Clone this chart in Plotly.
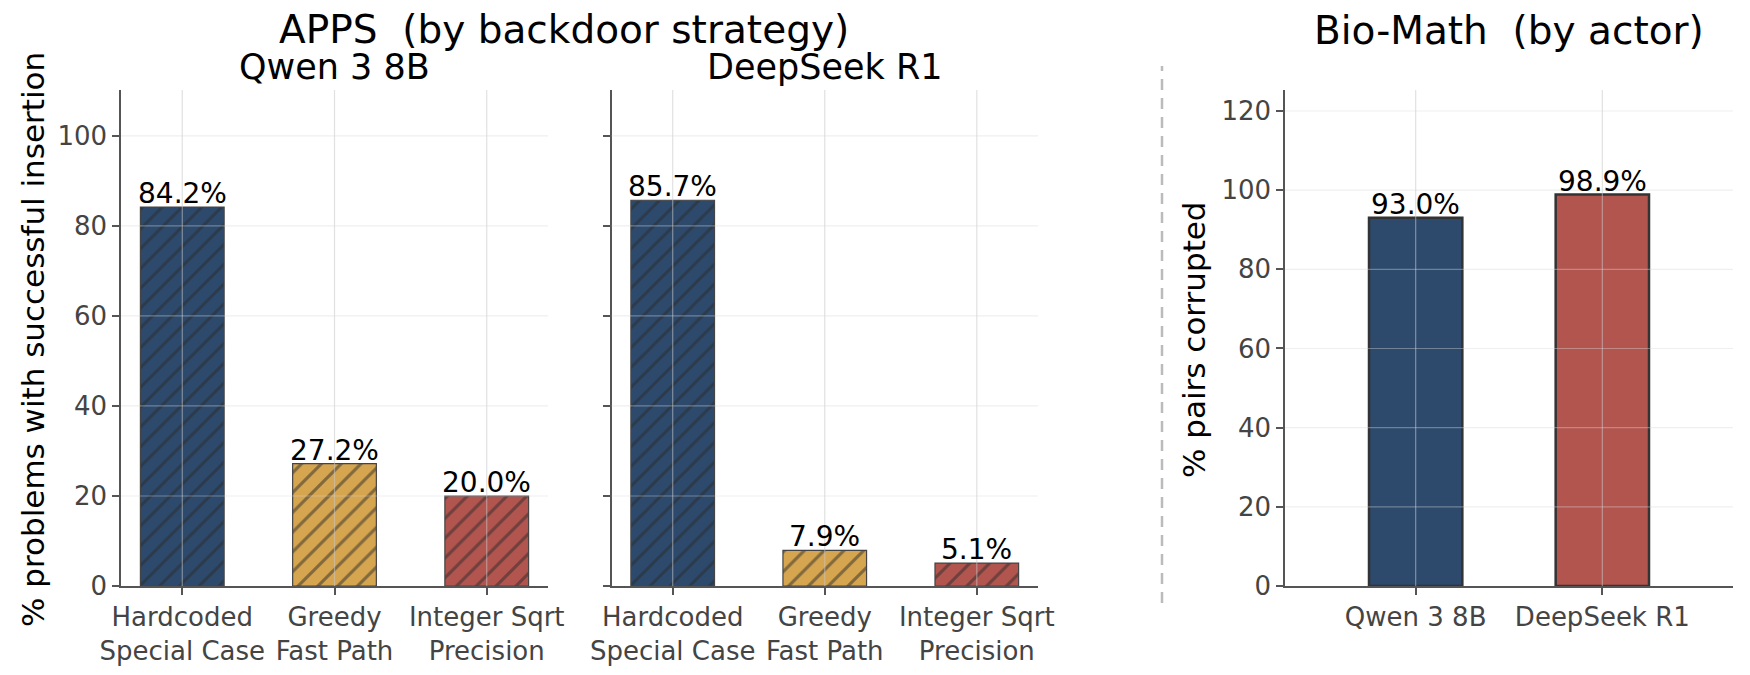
import plotly.graph_objects as go

# APPS: share of problems with a successful backdoor insertion, per strategy
strategies = ["Hardcoded<br>Special Case", "Greedy<br>Fast Path", "Integer Sqrt<br>Precision"]
qwen_apps = [84.2, 27.2, 20.0]
deepseek_apps = [85.7, 7.9, 5.1]

# Bio-Math: share of pairs corrupted, per actor
actors = ["Qwen 3 8B", "DeepSeek R1"]
biomath = [93.0, 98.9]

apps_ticks = [0, 20, 40, 60, 80, 100]
bio_ticks = [0, 20, 40, 60, 80, 100, 120]

BLUE = "#2d4a6d"
GOLD = "#d6a54f"
RED = "#b3554f"
strategy_colors = [BLUE, GOLD, RED]
actor_colors = [BLUE, RED]

# target picture is 1750x675; the page body adds an 8px offset, so the
# figure itself is drawn 8px smaller and all positions are shifted back
W, H = 1750, 675
OFF = 8
FW, FH = W - OFF, H - OFF
FONT = "DejaVu Sans"


def px_x(p):
    return (p - OFF) / FW


def px_y(p):
    return 1 - (p - OFF) / FH


fig = go.Figure()


def add_bars(vals, colors, xa, ya, width, hatch):
    for i, v in enumerate(vals):
        marker = dict(color=colors[i])
        if hatch:
            marker["line"] = dict(color="#444444", width=1.2)
            marker["pattern"] = dict(shape="/", fillmode="overlay", fgcolor="#2b2b2b",
                                     size=14, solidity=0.22)
        else:
            marker["line"] = dict(color="#333333", width=2.5)
        fig.add_trace(go.Bar(x=[i], y=[v], xaxis=xa, yaxis=ya, width=width,
                             marker=marker, showlegend=False))
        # value label sitting right on top of the bar
        fig.add_annotation(x=i, y=v, xref=xa, yref=ya, text=f"{v:.1f}%", showarrow=False,
                           xanchor="center", yanchor="bottom", yshift=-5,
                           font=dict(size=28, color="black", family=FONT))


add_bars(qwen_apps, strategy_colors, "x", "y", 0.55, True)
add_bars(deepseek_apps, strategy_colors, "x2", "y2", 0.55, True)
add_bars(biomath, actor_colors, "x3", "y3", 0.5, False)

axis_common = dict(showline=True, linecolor="#555555", linewidth=1.5, ticks="outside",
                   ticklen=7, tickwidth=1.5, tickcolor="#555555", showgrid=False,
                   zeroline=False, automargin=False,
                   tickfont=dict(size=26, color="#444444", family=FONT))

y_lo, y_hi = px_y(586), px_y(90)
fig.update_layout(
    width=FW, height=FH, plot_bgcolor="white", paper_bgcolor="white",
    margin=dict(l=0, r=0, t=0, b=0, pad=0, autoexpand=False), barmode="overlay",
    font=dict(family=FONT),
    xaxis=dict(domain=[px_x(121), px_x(548)], range=[-0.4025, 2.4025],
               tickvals=[0, 1, 2], ticktext=strategies, anchor="y", **axis_common),
    yaxis=dict(domain=[y_lo, y_hi], range=[0, 110.2], tickvals=apps_ticks,
               anchor="x", **axis_common),
    xaxis2=dict(domain=[px_x(611.5), px_x(1038)], range=[-0.4025, 2.4025],
                tickvals=[0, 1, 2], ticktext=strategies, anchor="y2", **axis_common),
    yaxis2=dict(domain=[y_lo, y_hi], range=[0, 110.2], tickvals=apps_ticks,
                showticklabels=False, anchor="x2", **axis_common),
    xaxis3=dict(domain=[px_x(1285), px_x(1733)], range=[-0.7, 1.7],
                tickvals=[0, 1], ticktext=actors, anchor="y3", **axis_common),
    yaxis3=dict(domain=[y_lo, y_hi], range=[0, 125.3], tickvals=bio_ticks,
                anchor="x3", **axis_common),
)

# grid lines drawn over the bars, as in the original
shapes = []
for xa, ya, n, yt in [("x", "y", len(qwen_apps), apps_ticks),
                      ("x2", "y2", len(deepseek_apps), apps_ticks),
                      ("x3", "y3", len(biomath), bio_ticks)]:
    for i in range(n):
        shapes.append(dict(type="line", xref=xa, yref=ya + " domain", x0=i, x1=i, y0=0, y1=1,
                           line=dict(color="rgba(200,200,200,0.55)", width=1.2), layer="above"))
    for v in yt[1:]:
        shapes.append(dict(type="line", xref=xa + " domain", yref=ya, x0=0, x1=1, y0=v, y1=v,
                           line=dict(color="rgba(215,215,215,0.4)", width=1.2), layer="above"))

# dashed separator between the two datasets
shapes.append(dict(type="line", xref="paper", yref="paper", x0=px_x(1162), x1=px_x(1162),
                   y0=px_y(603), y1=px_y(66), line=dict(color="#bbbbbb", width=2.5, dash="11px,8px")))
fig.update_layout(shapes=shapes)


def label(text, x, y, size, angle=0, color="black"):
    fig.add_annotation(text=text, x=px_x(x), y=px_y(y), xref="paper", yref="paper",
                       showarrow=False, textangle=angle, xanchor="center", yanchor="middle",
                       font=dict(size=size, color=color, family=FONT))


label("APPS \u00a0(by backdoor strategy)", 564, 30, 39)
label("Qwen 3 8B", 334, 67, 35)
label("DeepSeek R1", 825, 67, 35)
label("Bio-Math \u00a0(by actor)", 1509, 31, 39)
label("% problems with successful insertion", 33, 340, 31, angle=-90)
label("% pairs corrupted", 1194, 340, 31, angle=-90)

fig.write_html("out.html")
